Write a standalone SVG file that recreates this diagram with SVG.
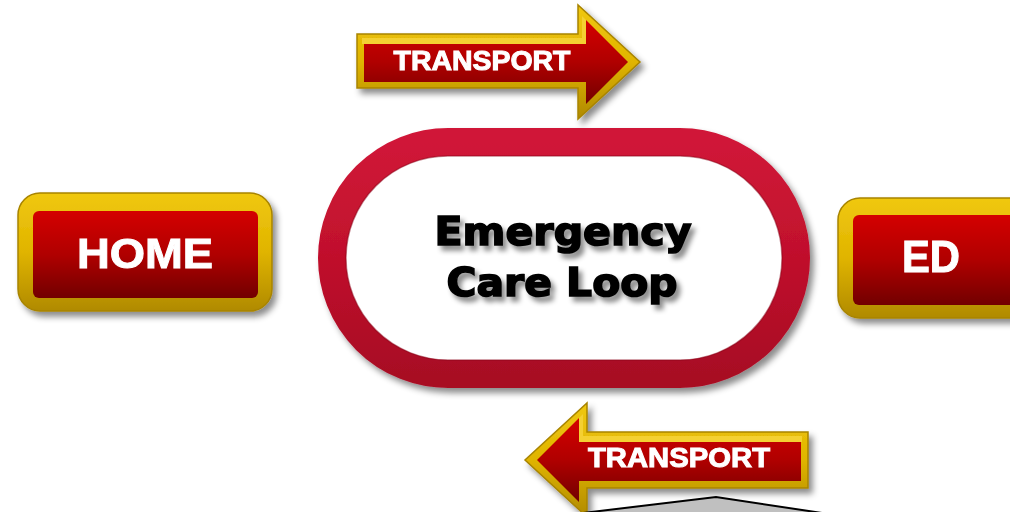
<svg xmlns="http://www.w3.org/2000/svg" width="1010" height="512" viewBox="0 0 1010 512">
<defs>
<linearGradient id="redV" x1="0" y1="0" x2="0" y2="1">
<stop offset="0" stop-color="#d40404"/>
<stop offset="0.5" stop-color="#b00000"/>
<stop offset="1" stop-color="#720000"/>
</linearGradient>
<linearGradient id="goldV" x1="0" y1="0" x2="0" y2="1">
<stop offset="0" stop-color="#f0c810"/>
<stop offset="0.5" stop-color="#e0b400"/>
<stop offset="1" stop-color="#b08a00"/>
</linearGradient>
<linearGradient id="loopG" x1="0" y1="0" x2="0" y2="1">
<stop offset="0" stop-color="#d01838"/>
<stop offset="0.5" stop-color="#c0102c"/>
<stop offset="1" stop-color="#a80a24"/>
</linearGradient>
<filter id="sh" x="-10%" y="-10%" width="130%" height="140%">
<feDropShadow dx="4" dy="5" stdDeviation="3" flood-color="#000" flood-opacity="0.45"/>
</filter>
<filter id="tsh" x="-10%" y="-20%" width="130%" height="160%">
<feDropShadow dx="4" dy="5" stdDeviation="2.5" flood-color="#000" flood-opacity="0.45"/>
</filter>
</defs>
<style>
.lbl{font-family:"Liberation Sans",Arial,sans-serif;font-weight:bold;fill:#fff;stroke:#fff;stroke-width:1;text-anchor:middle}
.big{font-family:"DejaVu Sans","Liberation Sans",sans-serif;font-weight:bold;fill:#000;stroke:#000;stroke-width:1.6;text-anchor:middle;font-size:39px}
.gold{fill:url(#goldV);stroke:#a88400;stroke-width:1.5}
.red{fill:url(#redV)}
</style>
<rect width="1010" height="512" fill="#fff"/>

<g id="connectors">
<g id="transport-top" filter="url(#sh)">
<polygon class="gold" points="357,34 578,34 578,5 640,62 578,119 578,88 357,88"/>
<polygon fill="#f4d030" points="362,38 582,38 582,16 586,20 586,44 362,44"/>
<polygon class="red" points="364,44 586,44 586,20 628,62 586,104 586,82 364,82"/>
<text class="lbl" x="482" y="70" font-size="27" textLength="177" lengthAdjust="spacingAndGlyphs">TRANSPORT</text>
</g>
<g id="transport-bottom" filter="url(#sh)">
<polygon class="gold" points="808,432 587,432 587,403 525,460 587,517 587,488 808,488"/>
<polygon fill="#f4d030" points="802,436 583,436 583,414 579,418 579,442 802,442"/>
<polygon class="red" points="801,442 579,442 579,418 537,460 579,502 579,481 801,481"/>
<text class="lbl" x="679" y="467" font-size="27" textLength="182" lengthAdjust="spacingAndGlyphs">TRANSPORT</text>
</g>
</g>

<g id="home" filter="url(#sh)">
<rect class="gold" x="18" y="193" width="254" height="118" rx="22"/>
<rect class="red" x="33" y="211" width="225" height="87" rx="6"/>
<text class="lbl" x="145" y="268" font-size="43" textLength="136" lengthAdjust="spacingAndGlyphs">HOME</text>
</g>

<g id="ed" filter="url(#sh)">
<rect class="gold" x="838" y="198" width="200" height="120" rx="22"/>
<rect class="red" x="853" y="215" width="170" height="90" rx="6"/>
<text class="lbl" x="931" y="272" font-size="44" textLength="58" lengthAdjust="spacingAndGlyphs">ED</text>
</g>

<g id="loop">
<rect x="332" y="142" width="464" height="232" rx="116" fill="#fff" stroke="url(#loopG)" stroke-width="28" filter="url(#sh)"/>
<rect x="346" y="156" width="436" height="204" rx="102" fill="none" stroke="#8a0418" stroke-width="1.5" opacity="0.5"/>
<g filter="url(#tsh)">
<text class="big" x="563" y="245" textLength="257" lengthAdjust="spacingAndGlyphs">Emergency</text>
<text class="big" x="562" y="296" textLength="231" lengthAdjust="spacingAndGlyphs">Care Loop</text>
</g>
</g>

<g id="bottom-shape">
<polygon points="583,513 716,497 822,513" fill="#c0c0c0" stroke="#000" stroke-width="2"/>
</g>
</svg>
